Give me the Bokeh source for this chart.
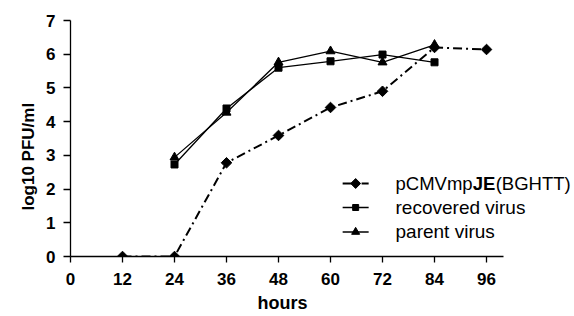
import math
from bokeh.plotting import figure
from bokeh.models import FixedTicker, Range1d, Label, Title
from bokeh.embed import file_html
from bokeh.resources import INLINE

# ---- data ----
hours_pcmv = [12, 24, 36, 48, 60, 72, 84, 96]
pcmv = [0, 0, 2.78, 3.59, 4.42, 4.90, 6.20, 6.14]
hours_virus = [24, 36, 48, 60, 72, 84]
recovered = [2.73, 4.39, 5.60, 5.79, 5.99, 5.76]
parent = [2.94, 4.27, 5.76, 6.09, 5.76, 6.28]
x_ticks = [0, 12, 24, 36, 48, 60, 72, 84, 96]
y_ticks = [0, 1, 2, 3, 4, 5, 6, 7]
series_names = ["recovered virus", "parent virus"]
x_title = "hours"
y_title = "log10 PFU/ml"

FONT = "Liberation Sans"

p = figure(width=574, height=316, output_backend="svg", toolbar_location=None,
           x_range=Range1d(0, 116.3), y_range=Range1d(0, 7),
           min_border_left=70, min_border_right=0, min_border_top=20, min_border_bottom=60)
p.outline_line_color = None
p.grid.visible = False
p.background_fill_color = "white"

for ax in (p.xaxis[0], p.yaxis[0]):
    ax.major_label_text_font = FONT
    ax.major_label_text_font_style = "bold"
    ax.major_label_text_font_size = "17px"
    ax.major_label_text_color = "black"
    ax.axis_line_color = "black"
    ax.axis_line_width = 1.3
    ax.major_tick_line_color = "black"
    ax.major_tick_line_width = 1.3
    ax.minor_tick_line_color = None
    ax.major_tick_in = 0

p.xaxis.ticker = FixedTicker(ticks=x_ticks)
p.xaxis.bounds = (0, 100)
p.xaxis.major_tick_out = 6
p.xaxis.major_label_standoff = 10

p.yaxis.ticker = FixedTicker(ticks=y_ticks)
p.yaxis.bounds = (0, 7)
p.yaxis.major_tick_out = 7
p.yaxis.major_label_standoff = 8

# axis titles as side titles so they can be placed like the reference
p.add_layout(Title(text=y_title, align="left", offset=46, standoff=11, text_font=FONT,
                   text_font_size="17px", text_font_style="bold", text_color="black"), "left")
p.add_layout(Title(text=x_title, align="left", offset=187, standoff=7, text_font=FONT,
                   text_font_size="18px", text_font_style="bold", text_color="black"), "below")

# series
DASH = "9 4 2 4"
p.line(hours_pcmv, pcmv, line_color="black", line_width=2, line_dash=DASH)
p.scatter(hours_pcmv, pcmv, marker="square", angle=math.pi / 4, size=7.5, color="black")
p.line(hours_virus, recovered, line_color="black", line_width=1.3)
p.scatter(hours_virus, recovered, marker="square", size=7, color="black")
p.line(hours_virus, parent, line_color="black", line_width=1.3)
p.scatter(hours_virus, parent, marker="triangle", size=9, color="black")

# manual legend (decoration positions in data units)
rows_y = [2.165, 1.453, 0.727]
lx0, lx1, lxm, tx = 62.8, 68.8, 65.8, 75.0
styles = [("square", math.pi / 4, 7, 2, DASH), ("square", 0, 6, 1.3, "solid"),
          ("triangle", 0, 8, 1.3, "solid")]
for (mk, ang, sz, lw, dash), yy in zip(styles, rows_y):
    p.line([lx0, lx1], [yy, yy], line_color="black", line_width=lw, line_dash=dash)
    p.scatter([lxm], [yy], marker=mk, angle=ang, size=sz, color="black")

def lab(x, y, t, style="normal", size="19px"):
    p.add_layout(Label(x=x, y=y, text=t, text_font=FONT, text_font_size=size,
                       text_font_style=style, text_color="black", text_baseline="middle",
                       text_align="left"))

lab(tx, rows_y[0], "pCMVmp", size="18.5px")
lab(92.8, rows_y[0], "JE", "bold", size="18.5px")
lab(98.1, rows_y[0], "(BGHTT)", size="18.5px")
lab(tx, rows_y[1], series_names[0])
lab(tx, rows_y[2], series_names[1])

open("out.html", "w").write(file_html(p, INLINE))
